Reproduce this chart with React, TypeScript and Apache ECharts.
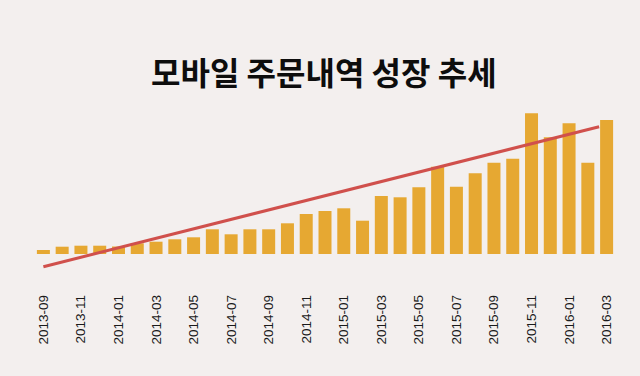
import React, { useEffect, useRef } from "react";
import * as echarts from "echarts";

const titleText = "모바일 주문내역 성장 추세";

const months = [
  "2013-09", "2013-10", "2013-11", "2013-12",
  "2014-01", "2014-02", "2014-03", "2014-04", "2014-05", "2014-06",
  "2014-07", "2014-08", "2014-09", "2014-10", "2014-11", "2014-12",
  "2015-01", "2015-02", "2015-03", "2015-04", "2015-05", "2015-06",
  "2015-07", "2015-08", "2015-09", "2015-10", "2015-11", "2015-12",
  "2016-01", "2016-02", "2016-03",
];

const orders = [
  4, 7.3, 8.3, 8.3, 7.5, 10.7, 12.3, 14.7, 16.7, 24.7,
  19.7, 24.7, 24.7, 30.7, 40, 43, 45.7, 33.3, 58, 56.7,
  66.7, 87.3, 67.3, 80.7, 91.3, 95.3, 140.7, 116.7, 130.7, 91.3,
  134,
];

// trend line endpoints: [category position, value]
const trendLine = [
  [0, -12.7],
  [29.6, 127.3],
];

export default function App() {
  const ref = useRef<HTMLDivElement>(null);

  useEffect(() => {
    if (!ref.current) return;
    const chart = echarts.init(ref.current, null, { renderer: "svg" });
    chart.setOption({
      animation: false,
      backgroundColor: "#f3efee",
      title: {
        text: titleText,
        left: 146,
        top: 50,
        textStyle: {
          fontFamily: "'Noto Sans CJK KR', sans-serif",
          fontSize: 32,
          fontWeight: "bold",
          color: "#0d0d0d",
        },
      },
      grid: { left: 34, right: 24, top: 104, bottom: 102, containLabel: false },
      xAxis: [
        {
          type: "category",
          data: months,
          axisLine: { show: false, onZero: false },
          axisTick: { show: false },
          axisLabel: {
            rotate: 90,
            interval: 1,
            margin: 21,
            fontSize: 13.5,
            fontFamily: "'Liberation Sans', Arial, sans-serif",
            color: "#1a1a1a",
          },
        },
        {
          type: "value",
          min: -0.5,
          max: 30.5,
          show: false,
        },
      ],
      yAxis: {
        type: "value",
        min: -20,
        max: 150,
        show: false,
        splitLine: { show: false },
      },
      series: [
        {
          type: "bar",
          data: orders,
          barWidth: 13,
          itemStyle: { color: "#e6a832" },
          silent: true,
        },
        {
          type: "line",
          xAxisIndex: 1,
          data: trendLine,
          symbol: "none",
          lineStyle: { color: "#d0504c", width: 3 },
          silent: true,
          z: 5,
        },
      ],
    });
    return () => chart.dispose();
  }, []);

  return (
    <div
      ref={ref}
      style={{ position: "absolute", left: 0, top: 0, width: 640, height: 376 }}
    />
  );
}
